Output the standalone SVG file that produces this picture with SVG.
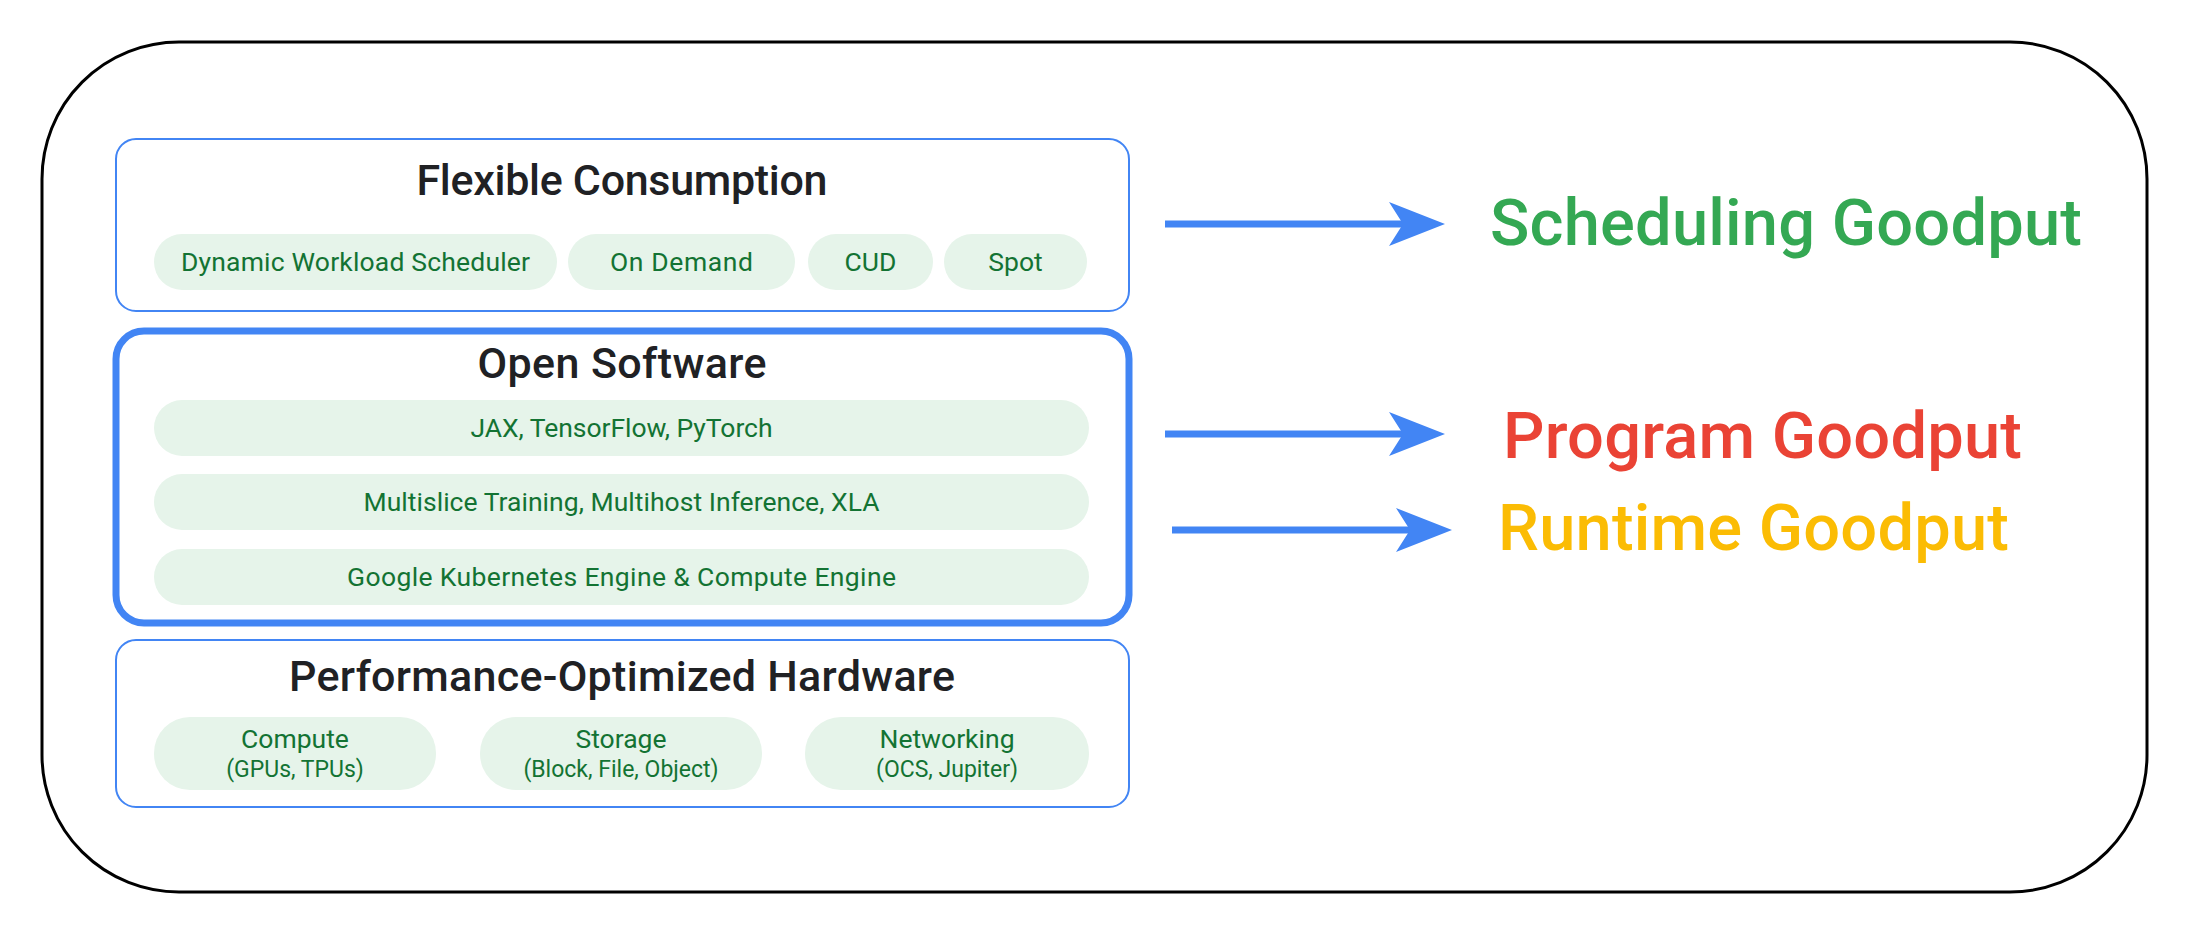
<svg xmlns="http://www.w3.org/2000/svg" width="2200" height="941" viewBox="0 0 2200 941">
<style>
.frame{fill:#fff;stroke:#000;stroke-width:3}
.box{fill:#fff;stroke:#4285f4;stroke-width:2}
.boxbold{fill:#fff;stroke:#4285f4;stroke-width:7}
.pill{fill:#e6f4ea}
.title{font-family:Roboto,"Open Sans",sans-serif;font-weight:500;font-size:43px;fill:#202124;text-anchor:middle}
.pt{font-family:Roboto,"Open Sans",sans-serif;font-size:26.5px;fill:#137333;text-anchor:middle}
.pts{font-family:Roboto,"Open Sans",sans-serif;font-size:23px;fill:#137333;text-anchor:middle}
.big{font-family:Roboto,"Open Sans",sans-serif;font-weight:500;font-size:65px}
.aline{stroke:#4285f4;stroke-width:7;fill:none}
.ahead{fill:#4285f4}
</style>
<rect class="frame" x="42" y="42" width="2105" height="850" rx="137" ry="137"/>

<g id="flexible-consumption">
<rect class="box" x="116" y="139" width="1013" height="172" rx="20"/>
<text class="title" x="622" y="195" textLength="411">Flexible Consumption</text>
<rect class="pill" x="154" y="234" width="403" height="56" rx="28"/>
<text class="pt" x="355.5" y="271" textLength="349">Dynamic Workload Scheduler</text>
<rect class="pill" x="568" y="234" width="227" height="56" rx="28"/>
<text class="pt" x="681.5" y="271" textLength="143">On Demand</text>
<rect class="pill" x="808" y="234" width="125" height="56" rx="28"/>
<text class="pt" x="870.5" y="271">CUD</text>
<rect class="pill" x="944" y="234" width="143" height="56" rx="28"/>
<text class="pt" x="1015.5" y="271">Spot</text>
</g>

<g id="open-software">
<rect class="boxbold" x="116" y="331" width="1013" height="292" rx="28"/>
<text class="title" x="622" y="378" textLength="289">Open Software</text>
<rect class="pill" x="154" y="400" width="935" height="56" rx="28"/>
<text class="pt" x="621.5" y="437" textLength="302">JAX, TensorFlow, PyTorch</text>
<rect class="pill" x="154" y="474" width="935" height="56" rx="28"/>
<text class="pt" x="621.5" y="511" textLength="516">Multislice Training, Multihost Inference, XLA</text>
<rect class="pill" x="154" y="549" width="935" height="56" rx="28"/>
<text class="pt" x="621.5" y="586" textLength="549">Google Kubernetes Engine &amp; Compute Engine</text>
</g>

<g id="performance-hardware">
<rect class="box" x="116" y="640" width="1013" height="167" rx="20"/>
<text class="title" x="622" y="691" textLength="666">Performance-Optimized Hardware</text>
<rect class="pill" x="154" y="717" width="282" height="73" rx="36"/>
<text class="pt" x="295" y="748">Compute</text>
<text class="pts" x="295" y="777">(GPUs, TPUs)</text>
<rect class="pill" x="480" y="717" width="282" height="73" rx="36"/>
<text class="pt" x="621" y="748">Storage</text>
<text class="pts" x="621" y="777">(Block, File, Object)</text>
<rect class="pill" x="805" y="717" width="284" height="73" rx="36"/>
<text class="pt" x="947" y="748">Networking</text>
<text class="pts" x="947" y="777">(OCS, Jupiter)</text>
</g>

<g id="connectors">
<line class="aline" x1="1165" y1="224" x2="1410" y2="224"/>
<polygon class="ahead" points="1389,202 1445,224 1389,246 1403,224"/>
<line class="aline" x1="1165" y1="434" x2="1410" y2="434"/>
<polygon class="ahead" points="1389,412 1445,434 1389,456 1403,434"/>
<line class="aline" x1="1172" y1="530" x2="1417" y2="530"/>
<polygon class="ahead" points="1396,508 1452,530 1396,552 1410,530"/>
</g>

<g id="scheduling-goodput">
<text class="big" x="1490" y="245" fill="#34a853" textLength="592">Scheduling Goodput</text>
</g>
<g id="program-goodput">
<text class="big" x="1503" y="458" fill="#ea4335" textLength="519">Program Goodput</text>
</g>
<g id="runtime-goodput">
<text class="big" x="1498" y="550" fill="#fbbc04" textLength="511">Runtime Goodput</text>
</g>
</svg>
